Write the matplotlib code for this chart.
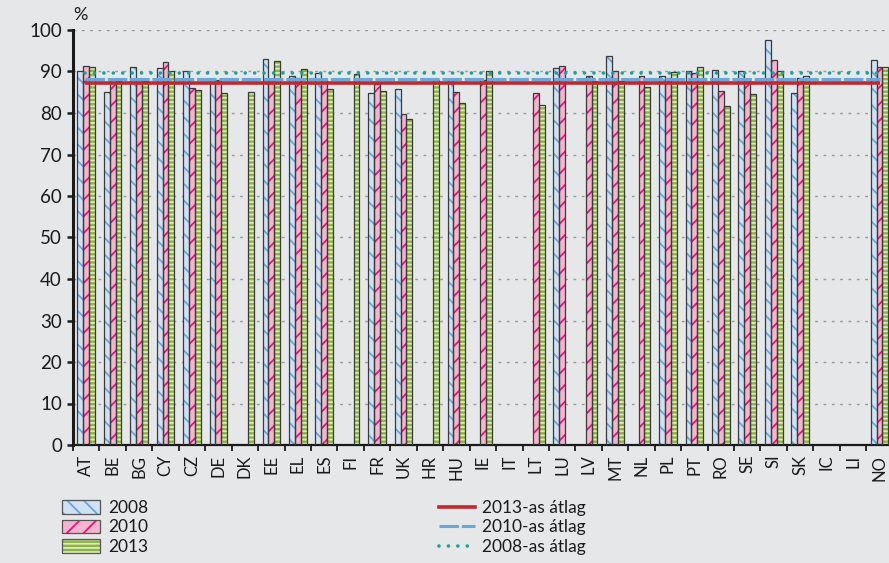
import numpy as np
import matplotlib
matplotlib.use("Agg")
import matplotlib.pyplot as plt
from matplotlib.patches import Patch
from matplotlib.lines import Line2D

nan = np.nan
categories = ['AT', 'BE', 'BG', 'CY', 'CZ', 'DE', 'DK', 'EE', 'EL', 'ES', 'FI', 'FR', 'UK', 'HR', 'HU',
              'IE', 'IT', 'LT', 'LU', 'LV', 'MT', 'NL', 'PL', 'PT', 'RO', 'SE', 'SI', 'SK', 'IC', 'LI', 'NO']
v2008 = [90.2, 85.0, 91.2, 90.8, 90.0, 88.0, nan, 93.0, 88.8, 89.6, nan, 84.9, 85.7, nan, 88.0,
         nan, nan, nan, 90.9, nan, 93.8, nan, 88.8, 90.1, 90.3, 90.0, 97.6, 84.7, nan, nan, 92.8]
v2010 = [91.4, 88.0, 88.0, 92.2, 86.0, 88.0, nan, 88.0, 88.5, 88.0, nan, 87.0, 79.7, nan, 85.0,
         88.0, nan, 84.9, 91.4, 88.8, 90.2, 88.8, 88.5, 89.6, 85.4, 88.0, 92.7, 88.4, nan, nan, 91.0]
v2013 = [91.0, 87.8, 87.6, 90.2, 85.5, 84.8, 85.0, 92.5, 90.5, 85.7, 89.3, 85.4, 78.6, 88.0, 82.4,
         90.2, nan, 82.0, nan, 87.8, 87.6, 86.2, 89.8, 91.2, 81.6, 84.5, 90.1, 88.8, nan, nan, 91.2]
mean2013 = 87.3
mean2010 = 88.1
mean2008 = 89.6
yticks = list(range(0, 101, 10))
series_labels = ['2008', '2010', '2013']
mean_labels = ['2013-as átlag', '2010-as átlag', '2008-as átlag']

BG = '#e6e7e9'
plt.rcParams['font.family'] = ['Lato', 'DejaVu Sans']
plt.rcParams['hatch.linewidth'] = 1.3

fig = plt.figure(figsize=(8.89, 5.63), dpi=100, facecolor=BG)
ax = fig.add_axes([73/889, (563-445)/563, (889-73)/889, (445-30)/563], facecolor=BG)

x = np.arange(len(categories))
w = 0.222
styles = [
    dict(fill='#cfe1f2', hatchc='#6aa6d8', hatch='\\\\'),
    dict(fill='#f8b4cc', hatchc='#e2157f', hatch='//'),
    dict(fill='#8ab540', hatchc='#dde9bf', hatch='----'),
]
edge = '#3a3a3a'
for k, (vals, st) in enumerate(zip([v2008, v2010, v2013], styles)):
    v = np.array(vals, dtype=float)
    m = ~np.isnan(v)
    xs = x[m] + (k - 1) * w
    ax.bar(xs, v[m], width=w, color=st['fill'], edgecolor=st['hatchc'], hatch=st['hatch'],
           linewidth=0, zorder=2)
    ax.bar(xs, v[m], width=w, facecolor='none', edgecolor=edge, linewidth=0.9, zorder=3)

xl = [-0.05, 30.02]
ax.plot(xl, [mean2013, mean2013], color='#c1272d', lw=2.6, solid_capstyle='butt', zorder=5)
ax.plot(xl, [mean2010, mean2010], color='#6aa6d8', lw=2.2, linestyle=(0, (6.4, 0.9)),
        dash_capstyle='butt', zorder=5)
ax.plot(xl, [mean2008, mean2008], color='#17a398', lw=2.6, linestyle=(0, (0.01, 2.6)),
        dash_capstyle='round', zorder=6)

ax.set_xlim(-0.465, 30.36)
ax.set_ylim(0, 100)
ax.set_yticks(yticks)
ax.set_yticklabels([str(t) for t in yticks], fontsize=13.5, color='#1a1a1a')
ax.set_xticks(x)
ax.set_xticklabels(categories, rotation=90, fontsize=12, color='#1a1a1a')
ax.set_xticks(np.arange(-0.5, 30.4, 1), minor=True)
ax.tick_params(axis='x', which='major', length=0, pad=7)
ax.tick_params(axis='x', which='minor', length=4, width=1.3, color='#1a1a1a', direction='out')
ax.tick_params(axis='y', length=4, width=1.8, color='#1a1a1a', direction='out', pad=4)
ax.yaxis.grid(True, linestyle=(0, (2, 4)), color='#9a9a9a', lw=1.0, zorder=0)
ax.set_axisbelow(True)
for s in ['top', 'right']:
    ax.spines[s].set_visible(False)
ax.spines['left'].set_linewidth(2.2)
ax.spines['left'].set_color('#1a1a1a')
ax.spines['bottom'].set_linewidth(1.6)
ax.spines['bottom'].set_color('#1a1a1a')

fig.text(80/889, 1 - 15/563, '%', fontsize=13, ha='center', va='center', color='#1a1a1a')

h1 = []
for st in styles:
    h1.append((Patch(facecolor=st['fill'], edgecolor=st['hatchc'], hatch=st['hatch'], linewidth=0),
               Patch(facecolor='none', edgecolor='#555555', linewidth=0.9)))
leg1 = fig.legend(h1, series_labels, loc='upper left', bbox_to_anchor=(62/889, 1 - 500/563),
                  frameon=False, fontsize=12.5, handlelength=2.2, handleheight=0.8,
                  labelspacing=0.2, handletextpad=0.45, borderpad=0, borderaxespad=0)
for t in leg1.get_texts():
    t.set_color('#1a1a1a')
h2 = [Line2D([], [], color='#c1272d', lw=2.6),
      Line2D([], [], color='#6aa6d8', lw=2.2, linestyle=(0, (6.4, 0.9))),
      Line2D([], [], color='#17a398', lw=2.6, linestyle=(0, (0.01, 2.6)), dash_capstyle='round')]
leg2 = fig.legend(h2, mean_labels, loc='upper left', bbox_to_anchor=(439/889, 1 - 500/563),
                  frameon=False, fontsize=12.5, handlelength=2.1,
                  labelspacing=0.2, handletextpad=0.4, borderpad=0, borderaxespad=0)
for t in leg2.get_texts():
    t.set_color('#1a1a1a')

fig.savefig('out.png', dpi=100, facecolor=BG)
